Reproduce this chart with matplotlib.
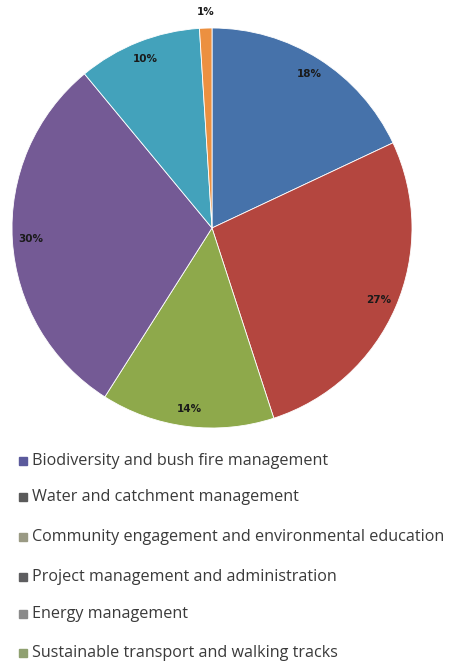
import matplotlib
matplotlib.use("Agg")
import matplotlib.pyplot as plt
from matplotlib.patches import Rectangle

# spending share by program area
categories = [
    "Biodiversity and bush fire management",
    "Water and catchment management",
    "Community engagement and environmental education",
    "Project management and administration",
    "Energy management",
    "Sustainable transport and walking tracks",
]
shares = [18, 27, 14, 30, 10, 1]
slice_colors = ["#4672aa", "#b4463f", "#8ea94b", "#745a95", "#43a2bb", "#ec9040"]
legend_colors = ["#5b5a9c", "#5a5a5a", "#9a9a84", "#5e5e60", "#8a8a8a", "#8fa070"]

fig = plt.figure(figsize=(4.53, 6.63), dpi=100)
ax = fig.add_axes([12 / 453, 1 - 428 / 663, 400 / 453, 400 / 663])

wedges, texts, autotexts = ax.pie(
    shares, colors=slice_colors, startangle=90, counterclock=False,
    autopct="%d%%", pctdistance=0.91, radius=1.0,
    wedgeprops=dict(edgecolor="white", linewidth=0.6),
    textprops=dict(fontsize=7.5, fontweight="bold", color="#1a1a1a"),
)
# smallest slice gets its label outside the rim
autotexts[-1].set_position((-0.03, 1.08))
ax.set_xlim(-1, 1)
ax.set_ylim(-1, 1)
ax.set_aspect("equal")
ax.axis("off")

# legend drawn as a column below the pie
row_y = [461, 497, 537, 577, 614, 653]
for label, color, y in zip(categories, legend_colors, row_y):
    fy = 1 - y / 663
    fig.add_artist(Rectangle((19 / 453, fy - 4 / 663), 8 / 453, 8 / 663,
                             transform=fig.transFigure, color=color))
    fig.text(32 / 453, fy, label, fontsize=11.6, color="#3a3a3a",
             va="center", ha="left", family="Open Sans")

fig.savefig("out.png", dpi=100, facecolor="white")
